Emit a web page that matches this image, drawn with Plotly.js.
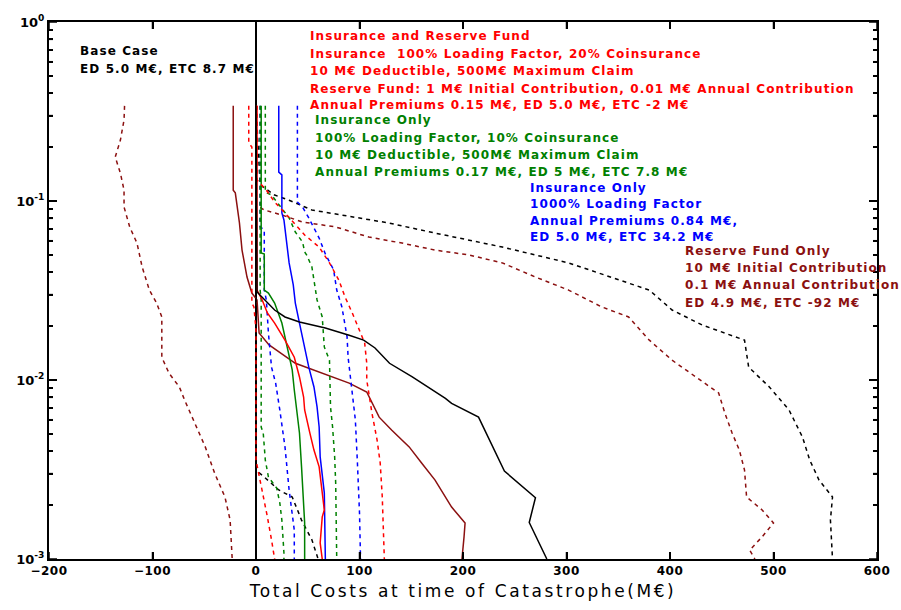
<!DOCTYPE html>
<html>
<head>
<meta charset="utf-8">
<script src="https://cdn.plot.ly/plotly-3.0.1.min.js"></script>
<style>
html, body { margin: 0; padding: 0; background: #fff; }
#chart { width: 901px; height: 610px; }
.annotation-text { letter-spacing: 1.1px; }
.xtitle { letter-spacing: 2.6px; }
.xtick text { letter-spacing: 0.5px; }
</style>
</head>
<body>
<div id="chart"></div>
<script>
// ---- Data (exceedance probability vs total cost, M€) ----
// Base case (black)
const baseSolidP = [0.34, 0.031, 0.0246, 0.0225, 0.0211, 0.0195, 0.0178, 0.0167, 0.0151, 0.0124, 0.0104, 0.0079, 0.0074, 0.0062, 0.0031, 0.0022, 0.0016, 0.001];
const baseSolidX = [0, 1, 18, 28, 42, 67, 90, 104, 115, 129, 151, 183, 189, 215, 240, 270, 264, 281];
const baseDashHiP = [0.34, 0.123, 0.108, 0.101, 0.0891, 0.0835, 0.0754, 0.0662, 0.0553, 0.0451, 0.0386, 0.0318, 0.0246, 0.0203, 0.0167, 0.0118, 0.00914, 0.0068, 0.0048, 0.00357, 0.00276, 0.00222, 0.00165, 0.001];
const baseDashHiX = [0, 4, 18, 32, 54, 83, 128, 173, 238, 302, 337, 380, 402, 431, 472, 476, 496, 515, 528, 535, 544, 557, 555, 557];
const baseDashLoP = [0.34, 0.00314, 0.00287, 0.00243, 0.00222, 0.00165, 0.00128, 0.001];
const baseDashLoX = [0, 0, 8, 22, 35, 44, 54, 60];

// Reserve fund only (brown)
const resSolidP = [0.34, 0.115, 0.111, 0.0754, 0.0532, 0.0376, 0.0306, 0.028, 0.0183, 0.0157, 0.0124, 0.0107, 0.0096, 0.00857, 0.00707, 0.0062, 0.00526, 0.00423, 0.00344, 0.00276, 0.00195, 0.00159, 0.00133, 0.001];
const resSolidX = [-22, -22, -20, -16, -13.5, -8.7, -4, 1, 3, 12.6, 38, 67, 90, 107, 114, 119, 131, 148, 160, 173, 189, 202, 201, 199];
const resDashHiP = [0.34, 0.095, 0.0891, 0.0835, 0.0763, 0.0716, 0.0629, 0.0582, 0.0532, 0.0499, 0.0451, 0.0376, 0.0318, 0.0256, 0.0225, 0.0167, 0.0129, 0.0096, 0.00846, 0.00654, 0.00506, 0.00406, 0.00314, 0.00222, 0.00188, 0.00159, 0.00133, 0.00112, 0.001];
const resDashHiX = [0, 0, 8, 25, 45, 77, 109, 141, 173, 206, 238, 270, 302, 334, 360, 380, 402, 434, 447, 453, 460, 467, 472, 474, 489, 500, 489, 477, 482];
const resDashLoP = [0.34, 0.284, 0.219, 0.176, 0.143, 0.115, 0.0925, 0.0716, 0.0582, 0.0428, 0.0318, 0.0269, 0.0225, 0.0167, 0.0134, 0.0109, 0.00914, 0.00773, 0.00575, 0.00423, 0.00302, 0.00222, 0.00165, 0.001];
const resDashLoX = [-127, -127.5, -131, -136, -131, -127.5, -127.5, -122, -115, -110, -103, -96, -91, -91, -91, -84, -74, -69, -59, -49, -40, -30, -25, -23];

// Insurance and reserve fund (red)
const irSolidP = [0.34, 0.0318, 0.028, 0.0237, 0.0208, 0.0167, 0.0134, 0.0104, 0.00803, 0.0068, 0.00506, 0.00406, 0.00327, 0.00234, 0.00188, 0.00172, 0.00123, 0.001];
const irSolidX = [1, 1, 6, 11, 18, 28, 37, 42, 46, 47, 52, 56, 61, 64, 66, 64, 62, 64];
const irDashLoP = [0.34, 0.211, 0.2, 0.0269, 0.0256, 0.019, 0.00357, 0.00243, 0.00172, 0.00128, 0.001];
const irDashLoX = [-7, -7, -4, -4, -2, 0, 0, 6, 11, 15, 18];
const irDashHiP = [0.34, 0.131, 0.115, 0.0987, 0.0857, 0.0734, 0.0646, 0.0553, 0.0451, 0.0362, 0.0291, 0.0237, 0.019, 0.0161, 0.0124, 0.01, 0.00846, 0.00654, 0.00462, 0.00344, 0.00222, 0.001];
const irDashHiX = [1, 1, 10, 18, 28, 38, 47, 61, 71, 80, 86, 93, 100, 105, 107, 107, 109, 112, 117, 120, 122, 124];

// Insurance only, 100% loading (green)
const ins100SolidP = [0.34, 0.0512, 0.0506, 0.0318, 0.0306, 0.0269, 0.0208, 0.0153, 0.0114, 0.00879, 0.0068, 0.00506, 0.00327, 0.00214, 0.00159, 0.001];
const ins100SolidX = [5, 5, 8, 8, 12, 18, 25, 30, 35, 37, 39, 42, 44, 46, 47, 47];
const ins100DashLoP = [0.34, 0.0318, 0.028, 0.00546, 0.00506, 0.00357, 0.00287, 0.00249, 0.00206, 0.00165, 0.00108, 0.001];
const ins100DashLoX = [4, 4, 5, 5, 7, 9, 12, 20, 23, 25, 27, 27];
const ins100DashHiP = [0.34, 0.112, 0.108, 0.095, 0.0804, 0.0671, 0.059, 0.0519, 0.0499, 0.0428, 0.028, 0.0225, 0.0153, 0.0129, 0.00879, 0.00707, 0.00546, 0.00372, 0.00266, 0.001];
const ins100DashHiX = [9, 9, 15, 22, 32, 38, 45, 47, 49, 54, 59, 64, 66, 71, 72, 72, 74, 76, 77, 78];

// Insurance only, 1000% loading (blue)
const ins1000SolidP = [0.34, 0.145, 0.14, 0.0857, 0.0783, 0.0451, 0.034, 0.0269, 0.0208, 0.0161, 0.0118, 0.00914, 0.00707, 0.00546, 0.00372, 0.00234, 0.0014, 0.001];
const ins1000SolidX = [22, 22, 25, 25, 27, 32, 36, 38, 42, 46, 51, 56, 59, 61, 62, 66, 67, 67];
const ins1000DashLoP = [0.34, 0.0716, 0.0689, 0.0318, 0.028, 0.0183, 0.0118, 0.0096, 0.0068, 0.00423, 0.00243, 0.00145, 0.001];
const ins1000DashLoX = [4, 4, 8, 8, 10, 12, 15, 19, 23, 28, 32, 37, 37];
const ins1000DashHiP = [0.34, 0.0987, 0.0925, 0.0804, 0.0621, 0.0506, 0.0412, 0.0318, 0.0256, 0.0208, 0.0174, 0.0134, 0.0104, 0.00846, 0.00598, 0.00344, 0.00181, 0.001];
const ins1000DashHiX = [40, 40, 45, 51, 61, 67, 75, 78, 83, 86, 88, 89, 91, 93, 96, 98, 100, 101];

// Tick labels
const xTickVals = [-200, -100, 0, 100, 200, 300, 400, 500, 600];
const yTickVals = [1, 0.1, 0.01, 0.001];
const yTickText = ['10<sup>0</sup>', '10<sup>-1</sup>', '10<sup>-2</sup>', '10<sup>-3</sup>'];
const yMinorVals = [0.002, 0.003, 0.004, 0.005, 0.006, 0.007, 0.008, 0.009,
                    0.02, 0.03, 0.04, 0.05, 0.06, 0.07, 0.08, 0.09,
                    0.2, 0.3, 0.4, 0.5, 0.6, 0.7, 0.8, 0.9];

// Text blocks
const baseText = ['Base Case', 'ED 5.0 M€, ETC 8.7 M€'];
const irText = ['Insurance and Reserve Fund', 'Insurance  100% Loading Factor, 20% Coinsurance', '10 M€ Deductible, 500M€ Maximum Claim', 'Reserve Fund: 1 M€ Initial Contribution, 0.01 M€ Annual Contribution', 'Annual Premiums 0.15 M€, ED 5.0 M€, ETC -2 M€'];
const ins100Text = ['Insurance Only', '100% Loading Factor, 10% Coinsurance', '10 M€ Deductible, 500M€ Maximum Claim', 'Annual Premiums 0.17 M€, ED 5 M€, ETC 7.8 M€'];
const ins1000Text = ['Insurance Only', '1000% Loading Factor', 'Annual Premiums 0.84 M€,', 'ED 5.0 M€, ETC 34.2 M€'];
const resText = ['Reserve Fund Only', '10 M€ Initial Contribution', '0.1 M€ Annual Contribution', 'ED 4.9 M€, ETC -92 M€'];

// ---- Styles ----
const BLACK = '#000000', BROWN = '#8b1010', RED = '#ff0000', GREEN = '#008000', BLUE = '#0000ff';
const DASH = '4px,4px';
const LW = 1.5;

function tr(x, y, color, dash) {
  return { x: x, y: y, type: 'scatter', mode: 'lines', hoverinfo: 'skip',
    line: { color: color, width: LW, dash: dash ? DASH : 'solid' } };
}

const traces = [
  tr(resDashLoX, resDashLoP, BROWN, true),
  tr(resDashHiX, resDashHiP, BROWN, true),
  tr(resSolidX, resSolidP, BROWN, false),
  tr(baseDashHiX, baseDashHiP, BLACK, true),
  tr(baseDashLoX, baseDashLoP, BLACK, true),
  tr(ins1000DashLoX, ins1000DashLoP, BLUE, true),
  tr(ins1000DashHiX, ins1000DashHiP, BLUE, true),
  tr(ins1000SolidX, ins1000SolidP, BLUE, false),
  tr(ins100DashLoX, ins100DashLoP, GREEN, true),
  tr(ins100DashHiX, ins100DashHiP, GREEN, true),
  tr(ins100SolidX, ins100SolidP, GREEN, false),
  tr(irDashLoX, irDashLoP, RED, true),
  tr(irDashHiX, irDashHiP, RED, true),
  tr(irSolidX, irSolidP, RED, false),
  tr(baseSolidX, baseSolidP, BLACK, false)
];

// plot area in pixels: left 49, right 877, top 22, bottom 559
const L = 49, R = 877, T = 22, B = 559;
const PW = R - L, PH = B - T;
function px2paperX(px) { return (px - L) / PW; }
function px2paperY(py) { return (B - py) / PH; }

const FONT = 'DejaVu Sans, Verdana, sans-serif';
const annotations = [];
function block(lines, color, xpx, ypxs) {
  lines.forEach((t, i) => {
    annotations.push({ xref: 'paper', yref: 'paper', x: px2paperX(xpx), y: px2paperY(ypxs[i]),
      xanchor: 'left', yanchor: 'middle', showarrow: false, text: t,
      font: { family: FONT, size: 12, color: color, weight: 'bold' } });
  });
}
block(baseText, BLACK, 78, [51, 69]);
block(irText, RED, 308, [36, 54, 71, 89, 105]);
block(ins100Text, GREEN, 313, [120, 138, 155, 172]);
block(ins1000Text, BLUE, 528, [188, 204, 221, 237]);
block(resText, BROWN, 683, [251, 268, 285, 303]);

// tick marks on all four sides (drawn as axis decoration shapes)
const shapes = [];
const tickLine = { color: '#000', width: 1.5 };
xTickVals.forEach(v => {
  shapes.push({ type: 'line', layer: 'above', xref: 'x', yref: 'paper', x0: v, x1: v, y0: 0, y1: 7 / PH, line: tickLine });
  shapes.push({ type: 'line', layer: 'above', xref: 'x', yref: 'paper', x0: v, x1: v, y0: 1, y1: 1 - 7 / PH, line: tickLine });
});
function yFrac(v) { return (Math.log10(v) + 3) / 3; }
function yTick(v, len) {
  const f = yFrac(v);
  shapes.push({ type: 'line', layer: 'above', xref: 'paper', yref: 'paper', x0: 0, x1: len / PW, y0: f, y1: f, line: tickLine });
  shapes.push({ type: 'line', layer: 'above', xref: 'paper', yref: 'paper', x0: 1, x1: 1 - len / PW, y0: f, y1: f, line: tickLine });
}
yTickVals.forEach(v => yTick(v, 8));
yMinorVals.forEach(v => yTick(v, 4));

const layout = {
  width: 901, height: 610,
  margin: { l: L, r: 901 - R, t: T, b: 610 - B },
  paper_bgcolor: '#fff', plot_bgcolor: '#fff',
  showlegend: false,
  font: { family: FONT, color: '#000' },
  xaxis: {
    range: [-200, 600], tickmode: 'array', tickvals: xTickVals,
    ticks: 'inside', ticklen: 7, tickwidth: 1.5, tickcolor: '#000',
    showline: true, linecolor: '#000', linewidth: 2, mirror: 'ticks',
    showgrid: false, zeroline: true, zerolinecolor: '#000', zerolinewidth: 2,
    tickfont: { family: FONT, size: 12, color: '#000', weight: 'bold' },
    title: { text: 'Total Costs at time of Catastrophe(M€)', font: { family: FONT, size: 17, color: '#000' }, standoff: 8 }
  },
  yaxis: {
    type: 'log', range: [-3, 0], tickmode: 'array', tickvals: yTickVals, ticktext: yTickText,
    ticks: 'inside', ticklen: 8, tickwidth: 1.5, tickcolor: '#000',
    minor: { tickmode: 'array', tickvals: yMinorVals, ticks: 'inside', ticklen: 4, tickwidth: 1.5, tickcolor: '#000', showgrid: false },
    showline: true, linecolor: '#000', linewidth: 2, mirror: 'ticks',
    showgrid: false, zeroline: false,
    tickfont: { family: FONT, size: 13, color: '#000', weight: 'bold' }
  },
  shapes: shapes,
  annotations: annotations
};

Plotly.newPlot('chart', traces, layout, { displayModeBar: false });
</script>
</body>
</html>
